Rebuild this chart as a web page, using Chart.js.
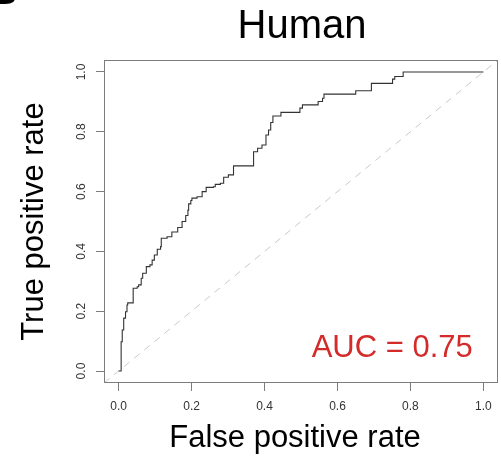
<!DOCTYPE html>
<html>
<head>
<meta charset="utf-8">
<title>Human ROC</title>
<script src="https://cdn.jsdelivr.net/npm/chart.js@4.4.0/dist/chart.umd.min.js"></script>
<style>
  html, body { margin: 0; padding: 0; background: #fff; }
  #wrap { width: 501px; height: 459px; }
</style>
</head>
<body>
<div id="wrap"><canvas id="rocChart" width="501" height="459"></canvas></div>
<script>
// ROC curve corners
const fpr = [0, 0.007, 0.010, 0.014, 0.019, 0.023, 0.025, 0.038, 0.040, 0.051,
    0.055, 0.062, 0.066, 0.076, 0.086, 0.092, 0.098, 0.106, 0.115, 0.117,
    0.133, 0.146, 0.162, 0.174, 0.184, 0.190, 0.192, 0.198, 0.201, 0.215,
    0.229, 0.240, 0.260, 0.265, 0.279, 0.288, 0.301, 0.315, 0.368, 0.370,
    0.381, 0.393, 0.404, 0.411, 0.417, 0.423, 0.445, 0.494, 0.497, 0.504,
    0.543, 0.547, 0.559, 0.563, 0.648, 0.650, 0.690, 0.693, 0.748, 0.751,
    0.757, 0.778, 0.780, 1.0];
const tpr = [0, 0.098, 0.137, 0.177, 0.198, 0.221, 0.228, 0.228, 0.277, 0.282,
    0.288, 0.310, 0.327, 0.349, 0.355, 0.371, 0.388, 0.407, 0.416, 0.444,
    0.449, 0.465, 0.480, 0.500, 0.520, 0.538, 0.559, 0.570, 0.578, 0.583,
    0.600, 0.614, 0.616, 0.624, 0.628, 0.648, 0.656, 0.686, 0.686, 0.733,
    0.745, 0.756, 0.789, 0.806, 0.831, 0.853, 0.865, 0.865, 0.879, 0.890,
    0.890, 0.901, 0.912, 0.926, 0.926, 0.937, 0.937, 0.962, 0.962, 0.976,
    0.985, 0.985, 1.0, 1.0];

// chance diagonal (abline 0,1) across the whole plot region
const chanceX = [-0.04, 1.04];
const chanceY = [-0.04, 1.04];

const tickValues = [0, 0.2, 0.4, 0.6, 0.8, 1.0];
const tickLabels = ['0.0', '0.2', '0.4', '0.6', '0.8', '1.0'];

const panelLabel = 'B';
const titleText = 'Human';
const xTitle = 'False positive rate';
const yTitle = 'True positive rate';
const aucText = 'AUC = 0.75';

const FONT = '"Liberation Sans", Arial, Helvetica, sans-serif';

function useFixedTicks(scale) {
    scale.ticks = tickValues.map(v => ({ value: v }));
}

function labelFor(value) {
    const i = tickValues.indexOf(value);
    return i >= 0 ? tickLabels[i] : '';
}

// Frame, rotated y tick labels and the texts R puts outside the axes
const decorations = {
    id: 'decorations',
    afterDraw(chart) {
        const { ctx, chartArea: a, scales: { x, y } } = chart;
        ctx.save();

        ctx.strokeStyle = '#7c7c7c';
        ctx.lineWidth = 1;
        ctx.strokeRect(a.left + 0.5, a.top + 0.5, a.right - a.left - 1, a.bottom - a.top - 1);

        // y tick labels read bottom to top
        ctx.fillStyle = '#333';
        ctx.font = '12px ' + FONT;
        ctx.textAlign = 'center';
        ctx.textBaseline = 'alphabetic';
        y.ticks.forEach(t => {
            ctx.save();
            ctx.translate(85, y.getPixelForValue(t.value));
            ctx.rotate(-Math.PI / 2);
            ctx.fillText(labelFor(t.value), 0, 0);
            ctx.restore();
        });

        ctx.fillStyle = '#000';
        ctx.font = '40px ' + FONT;
        ctx.fillText(titleText, 302, 38);

        ctx.font = '31px ' + FONT;
        ctx.fillText(xTitle, 295, 447);

        ctx.save();
        ctx.translate(43, (a.top + a.bottom) / 2);
        ctx.rotate(-Math.PI / 2);
        ctx.fillText(yTitle, 0, 0);
        ctx.restore();

        // AUC note placed in data space
        ctx.fillStyle = '#d42a2a';
        ctx.font = '31px ' + FONT;
        ctx.fillText(aucText, x.getPixelForValue(0.75), y.getPixelForValue(0.047));

        // panel letter cut by the top edge
        ctx.fillStyle = '#000';
        ctx.font = 'bold 40px ' + FONT;
        ctx.textAlign = 'right';
        ctx.fillText(panelLabel, 18, 4);

        ctx.restore();
    }
};

document.addEventListener('DOMContentLoaded', function() {
    const ctx = document.getElementById('rocChart').getContext('2d');
    new Chart(ctx, {
        type: 'scatter',
        data: {
            datasets: [{
                label: 'ROC',
                data: fpr.map((v, i) => ({ x: v, y: tpr[i] })),
                showLine: true,
                stepped: 'before',
                borderColor: '#333333',
                borderWidth: 1.1,
                pointRadius: 0,
                fill: false,
                order: 1
            }, {
                label: 'chance',
                data: chanceX.map((v, i) => ({ x: v, y: chanceY[i] })),
                showLine: true,
                borderColor: '#c9c9c9',
                borderWidth: 1,
                borderDash: [7, 6],
                pointRadius: 0,
                fill: false,
                order: 2
            }]
        },
        options: {
            responsive: false,
            animation: false,
            events: [],
            layout: {
                padding: { top: 60, right: 3, bottom: 0, left: 0 }
            },
            plugins: {
                legend: { display: false },
                tooltip: { enabled: false },
                title: { display: false }
            },
            scales: {
                x: {
                    type: 'linear',
                    min: -0.04,
                    max: 1.04,
                    afterBuildTicks: useFixedTicks,
                    afterFit: s => { s.height = 76; },
                    border: { display: false },
                    grid: {
                        drawOnChartArea: false,
                        drawTicks: true,
                        tickLength: 8,
                        color: '#7c7c7c'
                    },
                    ticks: {
                        padding: 8,
                        color: '#333',
                        font: { family: FONT, size: 12 },
                        maxRotation: 0,
                        callback: v => labelFor(v)
                    }
                },
                y: {
                    type: 'linear',
                    min: -0.04,
                    max: 1.04,
                    afterBuildTicks: useFixedTicks,
                    afterFit: s => { s.width = 104; },
                    border: { display: false },
                    grid: {
                        drawOnChartArea: false,
                        drawTicks: true,
                        tickLength: 8,
                        color: '#7c7c7c'
                    },
                    ticks: { display: false }
                }
            }
        },
        plugins: [decorations]
    });
});
</script>
</body>
</html>
